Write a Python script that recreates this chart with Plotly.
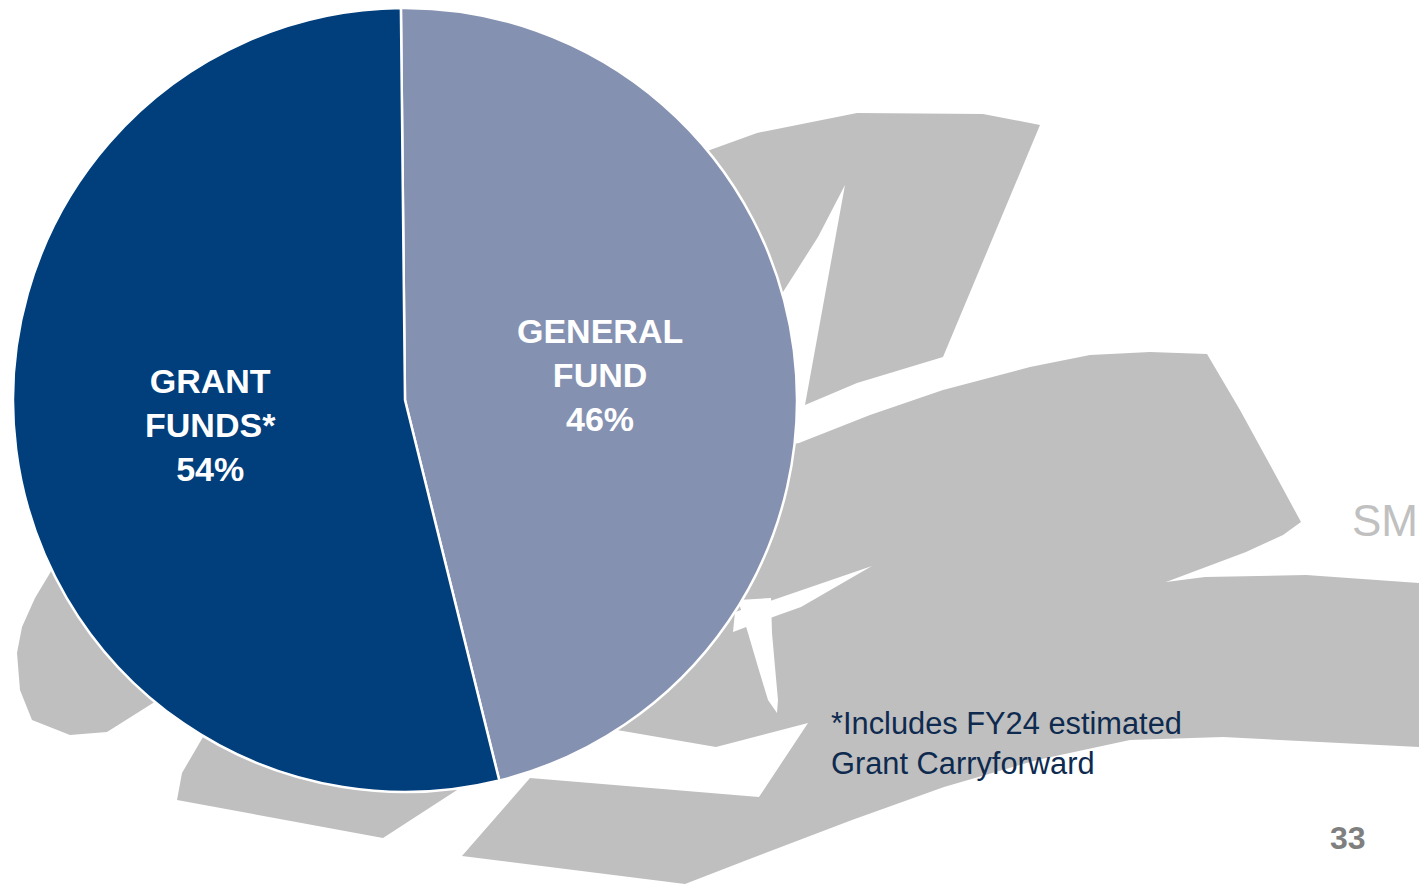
import plotly.graph_objects as go

# ---- data ----
labels = ["GENERAL<br>FUND", "GRANT<br>FUNDS*"]
values = [46.3, 53.7]
colors = ["#8591B1", "#003E7C"]
footnote = "*Includes FY24 estimated<br>Grant Carryforward"
page_number = "33"
logo_text = "SM"

W, H = 1419, 884
FONT = "Liberation Sans, Arial, sans-serif"


def to_path(pts):
    """Convert pixel points (from top-left) to a paper-coordinate SVG path."""
    parts = []
    for i, (x, y) in enumerate(pts):
        parts.append(("M" if i == 0 else "L") + f"{x / W:.5f},{1 - y / H:.5f}")
    return " ".join(parts) + " Z"


# decorative background logo (gray)
gray_shapes = [
    # top banner
    [(700, 155), (710, 150), (757, 133), (857, 113), (983, 114), (1040, 125), (943, 357),
     (857, 383), (805, 405), (845, 185), (818, 237), (783, 292), (700, 320)],
    # big lower-right swoosh
    [(760, 450), (799, 443), (870, 415), (943, 390), (1030, 367), (1090, 355), (1150, 352),
     (1207, 354), (1240, 410), (1269, 463), (1301, 522), (1283, 535), (1246, 552),
     (1166, 582), (1205, 577), (1306, 575), (1419, 583), (1419, 747), (1300, 741),
     (1223, 737), (1130, 740), (1037, 760), (944, 787), (852, 820), (747, 860),
     (685, 884), (462, 856), (530, 778), (759, 797), (808, 723), (716, 747),
     (617, 730), (700, 500)],
    # left blob
    [(100, 540), (60, 555), (50, 573), (35, 598), (22, 627), (17, 653), (20, 690),
     (32, 720), (70, 735), (107, 732), (153, 703), (200, 650)],
    # small lower band
    [(203, 737), (182, 773), (177, 800), (383, 838), (457, 790), (300, 770)],
]
white_cuts = [
    # thin spike
    [(872, 566), (773, 600), (735, 612), (733, 632), (773, 617), (801, 607)],
    # curved stroke
    [(738, 600), (771, 598), (772, 633), (775, 667), (778, 700), (777, 713),
     (768, 700), (758, 667), (748, 633)],
]

shapes = []
for pts in gray_shapes:
    shapes.append(dict(type="path", path=to_path(pts), xref="paper", yref="paper",
                       fillcolor="#BFBFBF", line=dict(width=0), layer="below"))
for pts in white_cuts:
    shapes.append(dict(type="path", path=to_path(pts), xref="paper", yref="paper",
                       fillcolor="#FFFFFF", line=dict(width=0), layer="below"))

cx, cy, R = 405, 400, 392

fig = go.Figure(go.Pie(
    labels=labels,
    values=values,
    sort=False,
    direction="clockwise",
    rotation=-0.6,
    marker=dict(colors=colors, line=dict(color="#FFFFFF", width=2.5)),
    texttemplate="%{label}<br>%{percent:.0%}",
    textposition="inside",
    insidetextorientation="horizontal",
    textfont=dict(family=FONT, size=34, color="#FFFFFF", weight="bold"),
    hoverinfo="skip",
    showlegend=False,
    domain=dict(x=[(cx - R) / W, (cx + R) / W], y=[1 - (cy + R) / H, 1 - (cy - R) / H]),
))

annotations = [
    dict(text=footnote, x=829 / W, y=1 - 743 / H, xref="paper", yref="paper",
         xanchor="left", yanchor="middle", align="left", showarrow=False,
         font=dict(family=FONT, size=30.8, color="#0E2A4F")),
    dict(text=page_number, x=1348 / W, y=1 - 838 / H, xref="paper", yref="paper",
         xanchor="center", yanchor="middle", showarrow=False,
         font=dict(family=FONT, size=32, color="#7F7F7F", weight="bold")),
    dict(text=logo_text, x=1350 / W, y=1 - 520 / H, xref="paper", yref="paper",
         xanchor="left", yanchor="middle", showarrow=False,
         font=dict(family=FONT, size=44, color="#C0C0C0")),
]

fig.update_layout(
    width=W, height=H,
    margin=dict(l=0, r=0, t=0, b=0),
    paper_bgcolor="#FFFFFF",
    plot_bgcolor="#FFFFFF",
    shapes=shapes,
    annotations=annotations,
)

fig.write_html("out.html")
